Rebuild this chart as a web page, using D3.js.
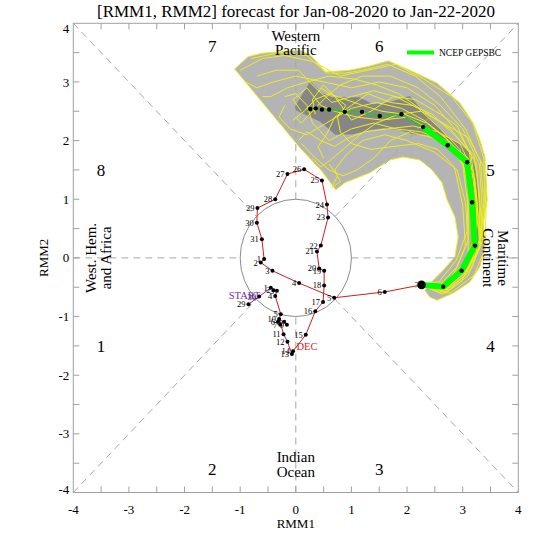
<!DOCTYPE html>
<html><head><meta charset="utf-8">
<script src="https://cdn.jsdelivr.net/npm/d3@7"></script>
<style>
body{margin:0;background:#fff}
svg{display:block}
text{font-family:"Liberation Serif","Times New Roman",serif}
</style>
</head><body>
<svg id="chart" width="540" height="540"></svg>
<script>
// ---------------- data ----------------
const titleText = "[RMM1, RMM2] forecast for Jan-08-2020 to Jan-22-2020";
const xTickValues = [-4,-3,-2,-1,0,1,2,3,4];
const yTickValues = [-4,-3,-2,-1,0,1,2,3,4];

// observed RMM (Nov 29 - Jan 7)
const obsLabels = ["29","30","1","2","3","4","5","6","7","8","9","10","11","12","13","14","15","16","17","18","19","20","21","22","23","24","25","26","27","28","29","30","31","1","2","3","4","5","6","7"];
const obsMonth  = ["Nov","Nov","Dec","Dec","Dec","Dec","Dec","Dec","Dec","Dec","Dec","Dec","Dec","Dec","Dec","Dec","Dec","Dec","Dec","Dec","Dec","Dec","Dec","Dec","Dec","Dec","Dec","Dec","Dec","Dec","Dec","Dec","Dec","Jan","Jan","Jan","Jan","Jan","Jan","Jan"];
const obsRMM1 = [-0.85,-0.66,-0.45,-0.40,-0.34,-0.37,-0.27,-0.32,-0.28,-0.21,-0.16,-0.30,-0.22,-0.15,-0.07,-0.05,0.18,0.35,0.49,0.51,0.51,0.42,0.38,0.45,0.58,0.56,0.47,0.15,-0.15,-0.37,-0.69,-0.70,-0.61,-0.57,-0.63,-0.42,0.06,0.69,1.60,2.26];
const obsRMM2 = [-0.79,-0.66,-0.51,-0.55,-0.56,-0.65,-0.96,-1.09,-1.14,-1.09,-1.14,-1.04,-1.30,-1.43,-1.64,-1.59,-1.31,-0.91,-0.75,-0.47,-0.22,-0.18,0.11,0.21,0.69,0.91,1.32,1.51,1.43,1.00,0.85,0.60,0.32,-0.02,-0.08,-0.22,-0.43,-0.68,-0.58,-0.46];

// ensemble mean forecast (Jan 7 start, Jan 8 - Jan 22)
const fcRMM1 = [2.26,2.65,2.98,3.22,3.17,3.08,2.73,2.29,1.90,1.51,1.19,0.88,0.60,0.47,0.36,0.26];
const fcRMM2 = [-0.46,-0.49,-0.22,0.21,0.95,1.63,1.92,2.23,2.45,2.42,2.49,2.49,2.53,2.53,2.55,2.54];
const thickDays = 8; // first week drawn thick

// ensemble members
const members = [
 [[2.26,-0.46],[2.75,-0.55],[3.15,-0.2],[3.36,0.3],[3.4,1.0],[3.38,1.7],[3.18,2.3],[2.8,2.75],[2.3,3.05],[1.8,3.3],[1.3,3.2],[0.8,3.1],[0.3,3.35],[-0.2,3.45],[-0.6,3.4],[-1.0,3.2]],
 [[2.26,-0.46],[2.7,-0.6],[3.1,-0.3],[3.3,0.2],[3.3,0.9],[3.25,1.6],[2.95,2.1],[2.5,2.6],[2.0,2.9],[1.5,3.0],[1.0,2.9],[0.5,3.0],[0.0,3.1],[-0.4,3.0],[-0.7,2.9],[-0.9,3.0]],
 [[2.26,-0.46],[2.6,-0.45],[2.9,-0.15],[3.1,0.3],[3.05,0.95],[2.9,1.5],[2.5,1.8],[2.0,2.0],[1.6,2.1],[1.2,2.0],[0.9,1.75],[0.7,1.5],[0.8,1.3],[0.65,1.2],[0.75,1.4],[0.6,1.6]],
 [[2.26,-0.46],[2.65,-0.5],[2.95,-0.2],[3.2,0.25],[3.2,1.0],[3.1,1.7],[2.7,2.0],[2.25,2.15],[1.8,2.2],[1.4,2.3],[1.0,2.2],[0.6,2.0],[0.3,2.3],[0.2,2.6],[0.0,2.8],[-0.2,2.75]],
 [[2.26,-0.46],[2.7,-0.5],[3.05,-0.25],[3.3,0.15],[3.35,0.9],[3.3,1.6],[3.0,2.2],[2.6,2.6],[2.2,2.9],[1.7,3.1],[1.2,3.1],[0.8,2.95],[0.5,2.7],[0.3,2.5],[0.1,2.3],[0.0,2.4]],
 [[2.26,-0.46],[2.62,-0.55],[2.95,-0.3],[3.15,0.1],[3.15,0.8],[3.05,1.5],[2.8,1.9],[2.4,2.2],[2.0,2.4],[1.55,2.35],[1.1,2.4],[0.7,2.5],[0.45,2.6],[0.2,2.9],[-0.05,2.7],[0.1,2.5]],
 [[2.26,-0.46],[2.72,-0.45],[3.1,-0.1],[3.35,0.4],[3.3,1.1],[3.2,1.75],[2.85,2.1],[2.45,2.45],[2.1,2.6],[1.7,2.65],[1.3,2.8],[1.0,2.6],[0.7,2.4],[0.55,2.1],[0.4,1.9],[0.5,1.7]],
 [[2.26,-0.46],[2.6,-0.6],[2.9,-0.35],[3.1,0.05],[3.1,0.85],[3.0,1.6],[2.7,2.05],[2.3,2.35],[1.9,2.55],[1.45,2.65],[1.0,2.55],[0.55,2.3],[0.2,2.1],[-0.1,2.2],[-0.3,2.4],[-0.2,2.6]],
 [[2.26,-0.46],[2.75,-0.5],[3.12,-0.15],[3.3,0.3],[3.25,1.05],[3.15,1.75],[2.9,2.25],[2.6,2.45],[2.15,2.7],[1.75,2.75],[1.35,2.5],[1.0,2.35],[0.7,2.75],[0.5,2.95],[0.3,2.7],[0.35,2.45]],
 [[2.26,-0.46],[2.68,-0.42],[3.02,-0.1],[3.22,0.35],[3.22,1.1],[3.12,1.8],[2.78,2.2],[2.3,2.5],[1.85,2.8],[1.45,2.95],[1.05,3.05],[0.6,3.1],[0.2,3.0],[-0.15,2.9],[-0.45,2.75],[-0.6,2.75]],
 [[2.26,-0.46],[2.6,-0.5],[2.85,-0.25],[3.05,0.2],[3.0,0.9],[2.85,1.55],[2.55,1.85],[2.2,1.95],[1.75,1.9],[1.35,1.85],[1.0,1.95],[0.8,2.15],[0.75,2.4],[0.9,2.6],[0.7,2.75],[0.45,2.9]],
 [[2.26,-0.46],[2.78,-0.6],[3.2,-0.3],[3.4,0.15],[3.42,0.85],[3.38,1.55],[3.1,2.05],[2.65,2.3],[2.25,2.5],[1.85,2.45],[1.45,2.3],[1.15,2.1],[0.85,1.85],[0.6,1.65],[0.45,1.55],[0.3,1.7]],
 [[2.26,-0.46],[2.66,-0.47],[3.0,-0.2],[3.2,0.25],[3.18,1.0],[3.08,1.65],[2.75,2.0],[2.35,2.3],[1.95,2.45],[1.55,2.5],[1.2,2.6],[0.9,2.7],[0.6,2.8],[0.35,2.7],[0.15,2.5],[-0.05,2.35]],
 [[2.26,-0.46],[2.7,-0.55],[3.05,-0.3],[3.25,0.1],[3.25,0.8],[3.2,1.45],[2.95,1.95],[2.55,2.15],[2.1,2.25],[1.65,2.2],[1.25,2.15],[0.95,2.05],[0.7,1.9],[0.45,2.0],[0.2,2.15],[0.05,2.0]],
 [[2.26,-0.46],[2.72,-0.52],[3.08,-0.22],[3.32,0.22],[3.38,0.95],[3.32,1.65],[3.05,2.2],[2.6,2.75],[2.15,3.1],[1.65,3.3],[1.2,3.2],[0.9,3.15],[0.55,3.15],[0.2,3.45],[-0.3,3.5],[-0.8,3.4]],
 [[2.26,-0.46],[2.64,-0.62],[2.98,-0.4],[3.18,0.0],[3.28,0.7],[3.22,1.35],[2.9,1.8],[2.45,2.05],[2.05,2.15],[1.7,2.0],[1.4,1.7],[1.1,1.5],[0.85,1.4],[0.6,1.5],[0.3,1.75],[0.1,1.95]],
 [[2.26,-0.46],[2.58,-0.4],[2.88,-0.05],[3.08,0.45],[3.1,1.2],[2.95,1.85],[2.6,2.2],[2.2,2.55],[1.8,2.75],[1.4,2.85],[1.0,2.75],[0.65,2.65],[0.35,2.9],[0.05,3.2],[-0.35,3.2],[-0.7,3.1]]
];

// 90% envelope (light grey)
const env90 = [[-1.10,3.22],[-0.86,3.43],[-0.61,3.49],[0.08,3.54],[0.26,3.46],[0.54,3.17],[0.97,3.20],[1.33,3.27],[1.66,3.36],[2.05,3.20],[2.54,2.98],[2.95,2.64],[3.19,2.30],[3.31,2.01],[3.40,1.72],[3.44,0.99],[3.37,0.60],[3.40,0.19],[3.31,-0.15],[3.13,-0.41],[2.83,-0.60],[2.54,-0.72],[2.41,-0.67],[2.32,-0.55],[2.47,-0.38],[2.65,-0.21],[2.86,0.02],[2.92,0.36],[2.86,0.70],[2.72,0.99],[2.63,1.28],[2.45,1.50],[2.23,1.67],[1.93,1.72],[1.69,1.67],[1.33,1.45],[0.88,1.28],[0.72,1.16],[0.45,1.50],[0.08,1.87]];
// 50% envelope (dark grey)
const env50 = [[-0.01,2.59],[0.26,3.01],[0.47,2.81],[0.65,2.74],[1.15,2.74],[1.39,2.62],[1.69,2.66],[2.05,2.76],[2.23,2.56],[2.46,2.33],[2.77,2.04],[2.99,1.91],[3.13,1.79],[3.24,1.50],[3.29,0.99],[3.29,0.25],[3.20,0.00],[3.13,0.13],[3.15,0.99],[3.08,1.58],[2.92,1.79],[2.68,1.96],[2.41,2.10],[2.11,2.11],[1.87,2.18],[1.57,2.21],[1.33,2.18],[1.03,2.11],[0.71,2.10],[0.44,2.32],[-0.01,2.52]];

const phaseNames = ["1","2","3","4","5","6","7","8"];
const phaseX = [-3.5,-1.5,1.5,3.5,3.5,1.5,-1.5,-3.5];
const phaseY = [-1.5,-3.6,-3.6,-1.5,1.5,3.62,3.62,1.5];

// ---------------- drawing ----------------
const svg = d3.select("#chart");
const x = d3.scaleLinear().domain([-4,4]).range([73.3,518.3]);
const y = d3.scaleLinear().domain([-4,4]).range([492.5,23.3]);
const line = d3.line().x(d=>x(d[0])).y(d=>y(d[1]));
const monthColor = {Nov:"#7a2bb5", Dec:"#cc1f1f", Jan:"#cc1f1f"};
const yellow = "#eeee1a";

// envelopes
svg.append("path").attr("d", line(env90)+"Z").attr("fill","#b4b4b4").attr("stroke",yellow).attr("stroke-width",1);
svg.append("path").attr("d", line(env50)+"Z").attr("fill","#868686").attr("stroke","none");

// dashed phase lines
const dashColor = "#a8a8a8";
const r45 = Math.SQRT1_2;
const segs = [
  [[-4,0],[-1,0]],[[1,0],[4,0]],[[0,-4],[0,-1]],[[0,1],[0,4]],
  [[-4,-4],[-r45,-r45]],[[r45,r45],[4,4]],[[-4,4],[-r45,r45]],[[r45,-r45],[4,-4]]
];
svg.append("g").selectAll("path").data(segs).join("path")
  .attr("d", d=>line(d)).attr("stroke",dashColor).attr("stroke-width",1)
  .attr("stroke-dasharray","7,5").attr("fill","none");

// ensemble members
svg.append("g").selectAll("path").data(members).join("path")
  .attr("d", line).attr("fill","none").attr("stroke",yellow).attr("stroke-width",1);

// unit circle
svg.append("ellipse").attr("cx",x(0)).attr("cy",y(0))
  .attr("rx",x(1)-x(0)).attr("ry",y(0)-y(1))
  .attr("fill","none").attr("stroke","#8c8c8c").attr("stroke-width",1);

// frame and ticks
svg.append("rect").attr("x",x(-4)).attr("y",y(4)).attr("width",x(4)-x(-4)).attr("height",y(-4)-y(4))
  .attr("fill","none").attr("stroke","#a0a0a0").attr("stroke-width",1);
const tickVals = d3.range(-3.5, 4, 0.5);
const tk = svg.append("g").attr("stroke","#a0a0a0").attr("stroke-width",1);
tickVals.forEach(v=>{
  tk.append("line").attr("x1",x(v)).attr("x2",x(v)).attr("y1",y(-4)).attr("y2",y(-4)-6);
  tk.append("line").attr("x1",x(v)).attr("x2",x(v)).attr("y1",y(4)).attr("y2",y(4)+6);
  tk.append("line").attr("y1",y(v)).attr("y2",y(v)).attr("x1",x(-4)).attr("x2",x(-4)+6);
  tk.append("line").attr("y1",y(v)).attr("y2",y(v)).attr("x1",x(4)).attr("x2",x(4)-6);
});
svg.append("g").selectAll("text").data(xTickValues).join("text")
  .attr("x",d=>x(d)).attr("y",y(-4)+21).attr("text-anchor","middle")
  .attr("font-size",13).text(d=>d);
svg.append("g").selectAll("text").data(yTickValues).join("text")
  .attr("x",x(-4)-4).attr("y",d=>y(d)).attr("dy", d=> d===4? "0.75em" : (d===-4? "0.15em":"0.35em"))
  .attr("text-anchor","end").attr("font-size",13).text(d=>d);

// titles
svg.append("text").attr("x",296).attr("y",17).attr("text-anchor","middle").attr("font-size",17).text(titleText);
svg.append("text").attr("x",x(0)).attr("y",528).attr("text-anchor","middle").attr("font-size",13).text("RMM1");
svg.append("text").attr("transform",`translate(48,${y(0)}) rotate(-90)`).attr("text-anchor","middle").attr("font-size",13).text("RMM2");

// phase numbers
svg.append("g").selectAll("text").data(phaseNames).join("text")
  .attr("x",(d,i)=>x(phaseX[i])).attr("y",(d,i)=>y(phaseY[i])).attr("dy","0.35em")
  .attr("text-anchor","middle").attr("font-size",17).text(d=>d);

// region labels
const reg = svg.append("g").attr("font-size",15).attr("text-anchor","middle");
reg.append("text").attr("x",x(0)).attr("y",y(3.7)).text("Western");
reg.append("text").attr("x",x(0)).attr("y",y(3.46)).text("Pacific");
reg.append("text").attr("x",x(0)).attr("y",y(-3.48)).text("Indian");
reg.append("text").attr("x",x(0)).attr("y",y(-3.73)).text("Ocean");
reg.append("text").attr("transform",`translate(${x(-3.6)},${y(0)}) rotate(-90)`).text("West. Hem.");
reg.append("text").attr("transform",`translate(${x(-3.33)},${y(0)}) rotate(-90)`).text("and Africa");
reg.append("text").attr("transform",`translate(${x(3.63)},${y(0)}) rotate(90)`).text("Maritime");
reg.append("text").attr("transform",`translate(${x(3.36)},${y(0)}) rotate(90)`).text("Continent");

// ensemble mean
const fc = fcRMM1.map((v,i)=>[v,fcRMM2[i]]);
svg.append("path").attr("d", line(fc.slice(thickDays-1))).attr("fill","none").attr("stroke","#22c922").attr("stroke-width",1.5);
svg.append("path").attr("d", line(fc.slice(0,thickDays))).attr("fill","none").attr("stroke","#00ff00").attr("stroke-width",6).attr("stroke-linejoin","round");
svg.append("g").selectAll("circle").data(fc.slice(1)).join("circle")
  .attr("cx",d=>x(d[0])).attr("cy",d=>y(d[1])).attr("r",2.2).attr("fill","#000");

// observed path
const obs = obsRMM1.map((v,i)=>({x:v,y:obsRMM2[i],label:obsLabels[i],m:obsMonth[i]}));
const og = svg.append("g");
for(let i=0;i<obs.length-1;i++){
  og.append("line").attr("x1",x(obs[i].x)).attr("y1",y(obs[i].y))
    .attr("x2",x(obs[i+1].x)).attr("y2",y(obs[i+1].y))
    .attr("stroke",monthColor[obs[i].m]).attr("stroke-width",1);
}
og.selectAll("circle").data(obs).join("circle")
  .attr("cx",d=>x(d.x)).attr("cy",d=>y(d.y)).attr("r",(d,i)=> i===obs.length-1?4.3:2).attr("fill","#000");
og.selectAll("text").data(obs).join("text")
  .attr("x",d=>x(d.x)-3).attr("y",d=>y(d.y)+3).attr("text-anchor","end")
  .attr("font-size",8.5).attr("fill",(d,i)=> i===obs.length-1?"#666":"#000").text(d=>d.label);

svg.append("text").attr("x",x(-0.92)).attr("y",y(-0.7)).attr("text-anchor","middle")
  .attr("font-size",10.5).attr("fill",monthColor.Nov).text("START");
svg.append("text").attr("x",x(0.2)).attr("y",y(-1.57)).attr("text-anchor","middle")
  .attr("font-size",10.5).attr("fill",monthColor.Dec).text("DEC");

// legend
svg.append("line").attr("x1",407).attr("x2",434).attr("y1",52.5).attr("y2",52.5).attr("stroke","#00ff00").attr("stroke-width",4);
svg.append("text").attr("x",439).attr("y",56).attr("font-size",9.5).text("NCEP GEPSBC");
</script>
</body></html>
